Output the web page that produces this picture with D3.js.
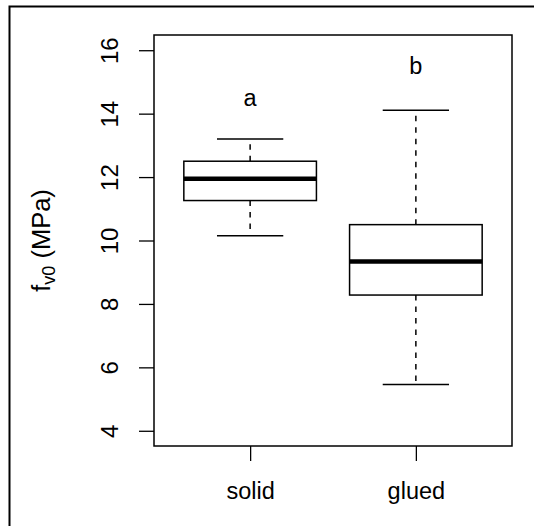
<!DOCTYPE html>
<html>
<head>
<meta charset="utf-8">
<script src="https://cdn.jsdelivr.net/npm/d3@7"></script>
<style>
  body { margin: 0; background: #fff; }
  svg { display: block; font-family: "Liberation Sans", Arial, sans-serif; }
</style>
</head>
<body>
<div id="chart"></div>
<script>
/* box stats: lower whisker, Q1, median, Q3, upper whisker */
var groups = ["solid", "glued"];
var lowerWhisker = [10.15, 5.46];
var q1 = [11.26, 8.28];
var median = [11.95, 9.34];
var q3 = [12.5, 10.5];
var upperWhisker = [13.2, 14.11];
var letters = ["a", "b"];
var letterY = [14.5, 15.5];
var yTicks = [4, 6, 8, 10, 12, 14, 16];

var W = 534, H = 526;
var svg = d3.select("#chart").append("svg")
  .attr("width", W)
  .attr("height", H);

/* outer frame (runs off right and bottom) */
svg.append("rect")
  .attr("x", 9.5).attr("y", 6.5)
  .attr("width", 700).attr("height", 700)
  .attr("fill", "none").attr("stroke", "#000").attr("stroke-width", 2);

var pLeft = 154, pRight = 512, pTop = 35, pBottom = 446;

var y = d3.scaleLinear().domain([3.52, 16.48]).range([pBottom, pTop]);
var x = d3.scaleLinear().domain([0.42, 2.58]).range([pLeft, pRight]);

/* y axis */
var gy = svg.append("g")
  .attr("transform", "translate(" + pLeft + ",0)")
  .call(d3.axisLeft(y).tickValues(yTicks).tickSize(15).tickFormat(d3.format("d")));
gy.select(".domain").remove();
gy.selectAll(".tick line").attr("stroke", "#000").attr("stroke-width", 1.3);
gy.selectAll(".tick text")
  .attr("x", null).attr("dy", null)
  .attr("transform", "translate(-36,0) rotate(-90)")
  .attr("text-anchor", "middle")
  .attr("fill", "#000")
  .style("font-size", "24px")
  .style("font-family", "Liberation Sans, Arial, sans-serif");

/* x axis */
var gx = svg.append("g")
  .attr("transform", "translate(0," + pBottom + ")")
  .call(d3.axisBottom(x).tickValues([1, 2]).tickSize(15)
    .tickFormat(function(d) { return groups[d - 1]; }));
gx.select(".domain").remove();
gx.selectAll(".tick line").attr("stroke", "#000").attr("stroke-width", 1.3);
gx.selectAll(".tick text")
  .attr("y", 53).attr("dy", null)
  .attr("fill", "#000")
  .style("font-size", "23.5px")
  .style("font-family", "Liberation Sans, Arial, sans-serif");

/* plot box */
svg.append("rect")
  .attr("x", pLeft).attr("y", pTop)
  .attr("width", pRight - pLeft).attr("height", pBottom - pTop)
  .attr("fill", "none").attr("stroke", "#000").attr("stroke-width", 1.5);

/* boxes */
var boxW = 0.8, capW = 0.4;
var idx = d3.range(groups.length);
var g = svg.append("g");

idx.forEach(function(i) {
  var cx = x(i + 1);
  // whiskers
  g.append("line")
    .attr("x1", cx).attr("x2", cx)
    .attr("y1", y(q3[i])).attr("y2", y(upperWhisker[i]))
    .attr("stroke", "#000").attr("stroke-width", 1.5).attr("stroke-dasharray", "5.5,6");
  g.append("line")
    .attr("x1", cx).attr("x2", cx)
    .attr("y1", y(q1[i])).attr("y2", y(lowerWhisker[i]))
    .attr("stroke", "#000").attr("stroke-width", 1.5).attr("stroke-dasharray", "5.5,6");
  // caps
  [upperWhisker[i], lowerWhisker[i]].forEach(function(v) {
    g.append("line")
      .attr("x1", x(i + 1 - capW / 2)).attr("x2", x(i + 1 + capW / 2))
      .attr("y1", y(v)).attr("y2", y(v))
      .attr("stroke", "#000").attr("stroke-width", 1.5);
  });
  // box
  g.append("rect")
    .attr("x", x(i + 1 - boxW / 2))
    .attr("y", y(q3[i]))
    .attr("width", x(i + 1 + boxW / 2) - x(i + 1 - boxW / 2))
    .attr("height", y(q1[i]) - y(q3[i]))
    .attr("fill", "#fff").attr("stroke", "#000").attr("stroke-width", 1.5);
  // median
  g.append("line")
    .attr("x1", x(i + 1 - boxW / 2)).attr("x2", x(i + 1 + boxW / 2))
    .attr("y1", y(median[i])).attr("y2", y(median[i]))
    .attr("stroke", "#000").attr("stroke-width", 4.5);
  // group letter
  g.append("text")
    .attr("x", cx).attr("y", y(letterY[i]))
    .attr("dy", "0.33em")
    .attr("text-anchor", "middle")
    .style("font-size", "23.5px")
    .text(letters[i]);
});

/* y label with subscript */
var lab = svg.append("text")
  .attr("transform", "translate(50," + ((pTop + pBottom) / 2) + ") rotate(-90)")
  .attr("text-anchor", "middle")
  .style("font-size", "25.5px");
lab.append("tspan").text("f");
lab.append("tspan").attr("dy", 5).style("font-size", "18px").text("v0");
lab.append("tspan").attr("dy", -5).text(" (MPa)");
</script>
</body>
</html>
